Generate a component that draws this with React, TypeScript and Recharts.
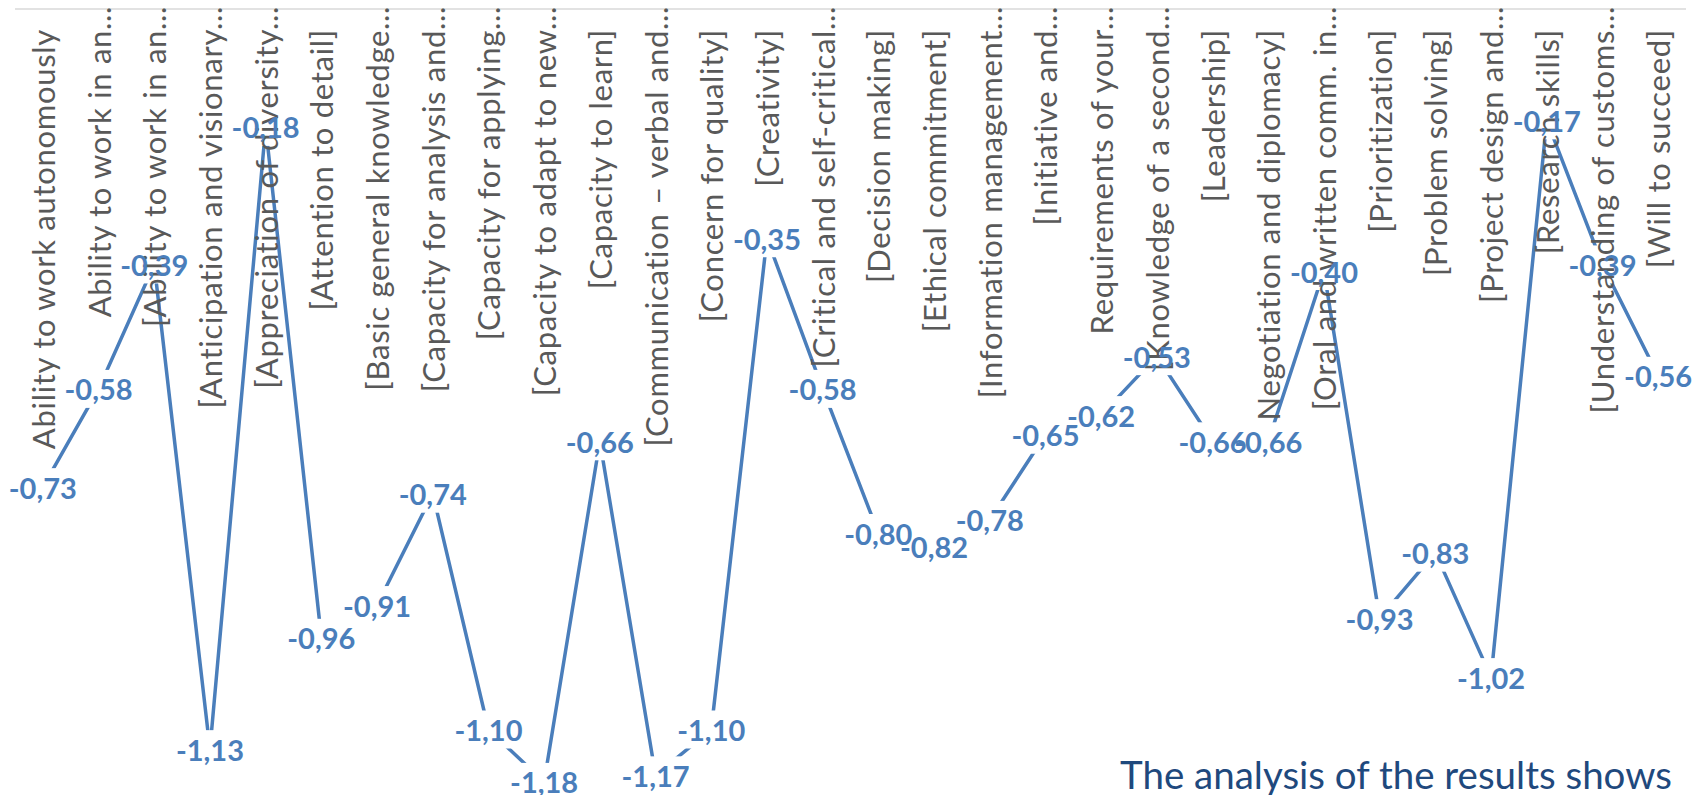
import { LabelList, Line, LineChart, XAxis, YAxis } from 'recharts';

const categories = [
  'Ability to work autonomously',
  'Ability to work in an…',
  '[Ability to work in an…',
  '[Anticipation and visionary…',
  '[Appreciation of diversity…',
  '[Attention to detail]',
  '[Basic general knowledge…',
  '[Capacity for analysis and…',
  '[Capacity for applying…',
  '[Capacity to adapt to new…',
  '[Capacity to learn]',
  '[Communication – verbal and…',
  '[Concern for quality]',
  '[Creativity]',
  '[Critical and self-critical…',
  '[Decision making]',
  '[Ethical commitment]',
  '[Information management…',
  '[Initiative and…',
  'Requirements of your…',
  '[Knowledge of a second…',
  '[Leadership]',
  'Negotiation and diplomacy]',
  '[Oral and written comm. in…',
  '[Prioritization]',
  '[Problem solving]',
  '[Project design and…',
  '[Research skills]',
  '[Understanding of customs…',
  '[Will to succeed]',
];

const values = [
  -0.73, -0.58, -0.39, -1.13, -0.18, -0.96, -0.91, -0.74, -1.1, -1.18,
  -0.66, -1.17, -1.1, -0.35, -0.58, -0.8, -0.82, -0.78, -0.65, -0.62,
  -0.53, -0.66, -0.66, -0.4, -0.93, -0.83, -1.02, -0.17, -0.39, -0.56,
];

const BLUE = '#4a7ebb';

const data = categories.map((name, i) => ({ name, value: values[i] }));

const fmt = (v: number) => v.toFixed(2).replace('.', ',');

function CategoryTick(props: any) {
  const { x, payload } = props;
  const label: string = payload.value;
  const y = label.endsWith('…') ? 10 : 33;
  return (
    <text
      x={x}
      y={y}
      dx={4}
      transform={`rotate(-90, ${x}, ${y})`}
      textAnchor="end"
      dominantBaseline="central"
      fill="#595959"
      fontSize={31}
      letterSpacing={0.7}
      fontFamily="Lato"
    >
      {label}
    </text>
  );
}

// white box behind each data label, cuts the line like the original
function LabelGap(props: any) {
  const { x, y } = props;
  return <rect x={x - 36} y={y - 19} width={72} height={38} fill="#ffffff" />;
}

function ValueLabel(props: any) {
  const { x, y, value } = props;
  return (
    <text
      x={x}
      y={y}
      textAnchor="middle"
      dominantBaseline="central"
      fill={BLUE}
      fontSize={29}
      fontWeight="bold"
      fontFamily="Lato"
    >
      {fmt(value)}
    </text>
  );
}

export default function App() {
  return (
    <div
      style={{
        position: 'absolute',
        left: 0,
        top: 0,
        width: 1695,
        height: 795,
        overflow: 'hidden',
        background: '#ffffff',
      }}
    >
      <LineChart width={1695} height={795} data={data} margin={{ top: 8, right: 9, left: 15, bottom: 0 }}>
        <YAxis hide domain={[-1.2, 0]} />
        <Line
          dataKey="value"
          stroke={BLUE}
          strokeWidth={3.5}
          dot={false}
          isAnimationActive={false}
        >
          <LabelList dataKey="value" content={LabelGap} />
        </Line>
        <XAxis
          dataKey="name"
          orientation="top"
          height={1}
          interval={0}
          tickLine={false}
          axisLine={{ stroke: '#d9d9d9', strokeWidth: 1.5 }}
          padding={{ left: 27.85, right: 27.85 }}
          tick={<CategoryTick />}
        />
        <Line
          dataKey="value"
          stroke="none"
          dot={false}
          activeDot={false}
          isAnimationActive={false}
        >
          <LabelList dataKey="value" content={ValueLabel} />
        </Line>
      </LineChart>
      <svg
        width={1695}
        height={795}
        style={{ position: 'absolute', left: 0, top: 0, pointerEvents: 'none' }}
      >
        <text x={1120} y={789} fill="#1f497d" fontSize={38.5} fontFamily="Lato">
          The analysis of the results shows
        </text>
      </svg>
    </div>
  );
}
